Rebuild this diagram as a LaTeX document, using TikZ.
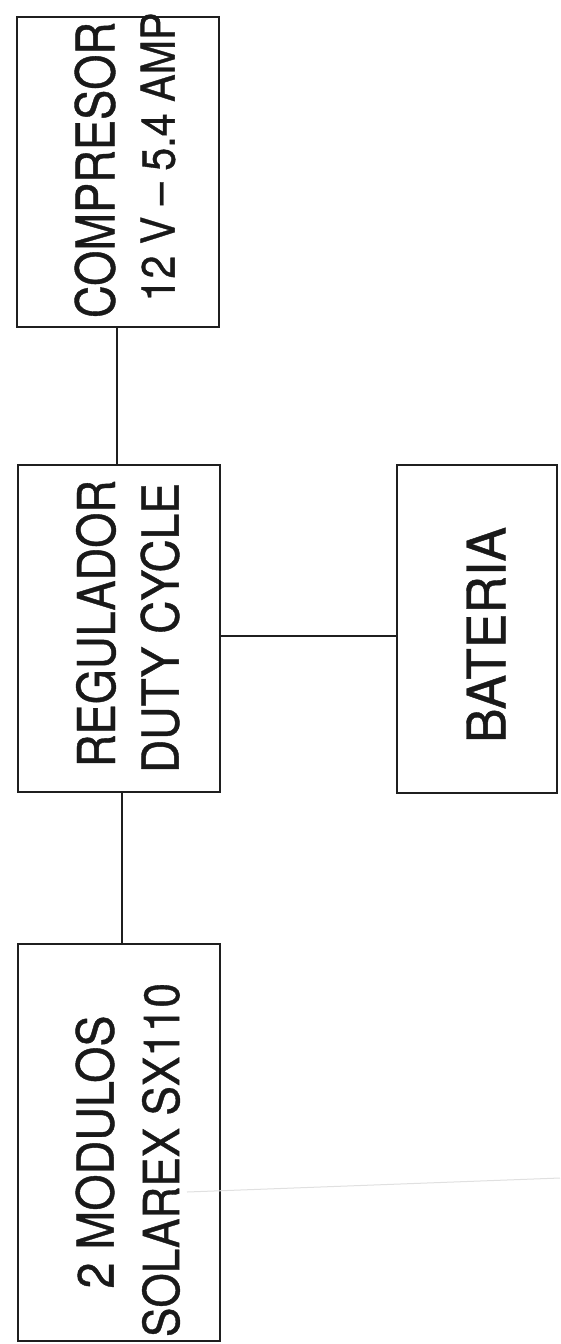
\documentclass[tikz,border=0pt]{standalone}
\usepackage{fontspec}
\setmainfont{TeX Gyre Heros}
\newfontfamily\leroy[FakeBold=0.8,Ligatures=TeX]{TeX Gyre Heros}
\usepackage{graphicx}
\newcommand{\lblfit}[3]{\resizebox{#1pt}{#2pt}{\leroy #3}}
\begin{document}
\begin{tikzpicture}[x=1pt,y=1pt,
  blockbox/.style={draw=black!88, line width=2.8pt, rectangle, inner sep=0pt, outer sep=0pt},
  wire/.style={draw=black!88, line width=2.3pt},
  txt/.style={rotate=90, inner sep=0pt, outer sep=0pt, anchor=center, text=black!90}]
\useasboundingbox[fill=white] (0,0) rectangle (560,-1344);
% boxes
\node[blockbox, minimum width=202pt, minimum height=310pt] (comp) at (118,-172) {};
\node[blockbox, minimum width=202pt, minimum height=327pt] (reg) at (119,-628.5) {};
\node[blockbox, minimum width=160pt, minimum height=328pt] (bat) at (477,-629) {};
\node[blockbox, minimum width=202pt, minimum height=397pt] (mod) at (119,-1142.5) {};
% texts
\node[txt] (t1) at (95,-170) {\lblfit{296}{40}{COMPRESOR}};
\node[txt] (t2) at (158,-157) {\lblfit{289}{34}{12 V – 5.4 AMP}};
\node[txt] (t3) at (96,-623.5) {\lblfit{287}{39}{REGULADOR}};
\node[txt] (t4) at (160,-628) {\lblfit{290}{38}{DUTY CYCLE}};
\node[txt] (t5) at (486,-635) {\lblfit{216}{39}{BATERIA}};
\node[txt] (t6) at (95,-1152) {\lblfit{273}{38}{2 MODULOS}};
\node[txt] (t7) at (161,-1160) {\lblfit{354}{37}{SOLAREX SX110}};
% connectors
\draw[wire] ([xshift=-1pt]comp.south) -- ([xshift=-1pt]comp.south |- reg.north);
\draw[wire] ([xshift=3pt]reg.south) -- ([xshift=3pt]reg.south |- mod.north);
\draw[wire] ([yshift=-7.5pt]reg.east) -- ([yshift=-7.5pt]reg.east -| bat.west);
% faint scan trace
\draw[black!12, line width=1pt] (187,-1192) -- (560,-1178);
\end{tikzpicture}
\end{document}
